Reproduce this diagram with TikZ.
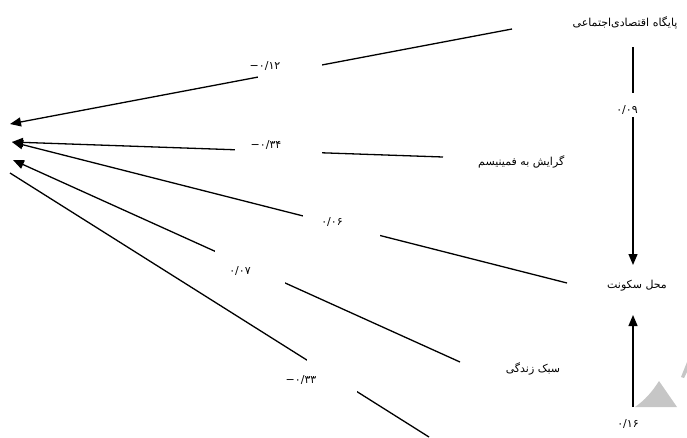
\documentclass[tikz,border=0pt]{standalone}
\usepackage{fontspec}
\usetikzlibrary{arrows.meta}
\TeXXeTstate=1
\newfontfamily\arabicfont[Script=Arabic]{DejaVu Sans}
\newfontfamily\numfont{DejaVu Sans}
\tikzset{
  link/.style={line width=1.3pt,draw=black},
  arr/.style={link,-{Triangle[length=11pt,width=9pt]}},
  mask/.style={fill=white,draw=none,inner sep=0pt},
  word/.style={inner sep=1pt,font=\arabicfont\fontsize{11}{13}\selectfont},
  coef/.style={inner sep=1pt,font=\numfont\fontsize{11}{13}\selectfont},
}
\begin{document}
\begin{tikzpicture}[x=1pt,y=-1pt]
\useasboundingbox (0,0) rectangle (687,437);
% watermark fragment
\fill[gray!45] (635,407) .. controls (645,400) and (652,392) .. (659,381) -- (668,394) -- (677,407) -- cycle;
\fill[gray!45] (681,377) -- (687,362) -- (687,372) -- (684,378) -- cycle;
% variable nodes
\node[word] (ses) at (625,23) {\beginR پایگاه اقتصادی‌اجتماعی\endR};
\node[word,anchor=west] (fem) at (477,162) {\beginR گرایش به فمینیسم\endR};
\node[word] (res) at (637,286) {\beginR محل سکونت\endR};
\node[word] (life) at (533,369) {\beginR سبک زندگی\endR};
% end points
\coordinate (s1) at (512,29);
\coordinate (t1) at (10,124);
\coordinate (s2) at (443,157);
\coordinate (t2) at (12,142);
\coordinate (s3) at (567,283);
\coordinate (s4) at (460,362);
\coordinate (t3) at (13,160);
\coordinate (s5) at (429,437);
\coordinate (t5) at (10,173);
\coordinate (v1a) at (633,47);
\coordinate (v1b) at (633,265);
\coordinate (v2a) at (633,407);
\coordinate (v2b) at (633,315);
% connectors
\draw[arr] (s1) -- (t1);
\draw[arr] (s2) -- (t2);
\draw[arr] (s3) -- (t2);
\draw[arr] (s4) -- (t3);
\draw[link] (s5) -- (t5);
\draw[arr] (v1a) -- (v1b);
\draw[arr] (v2a) -- (v2b);
% gaps behind coefficients
\node[mask,minimum width=64pt,minimum height=18pt] (m1) at (290,72.5) {};
\node[mask,minimum width=87pt,minimum height=10pt] (m2) at (278.5,150.5) {};
\node[mask,minimum width=77pt,minimum height=26pt] (m3) at (341.5,226) {};
\node[mask,minimum width=70pt,minimum height=36pt] (m4) at (250,267) {};
\node[mask,minimum width=50pt,minimum height=36pt] (m5) at (332,376) {};
\node[mask,minimum width=10pt,minimum height=24pt] (m6) at (633,105) {};
% coefficients
\node[coef] (c1) at (265,66) {−۰/۱۲};
\node[coef] (c2) at (266,145) {−۰/۳۴};
\node[coef] (c3) at (332,222) {۰/۰۶};
\node[coef] (c4) at (240,271) {۰/۰۷};
\node[coef] (c5) at (301,380) {−۰/۳۳};
\node[coef] (c6) at (627,110) {۰/۰۹};
\node[coef] (c7) at (628,424) {۰/۱۶};
\end{tikzpicture}
\end{document}
